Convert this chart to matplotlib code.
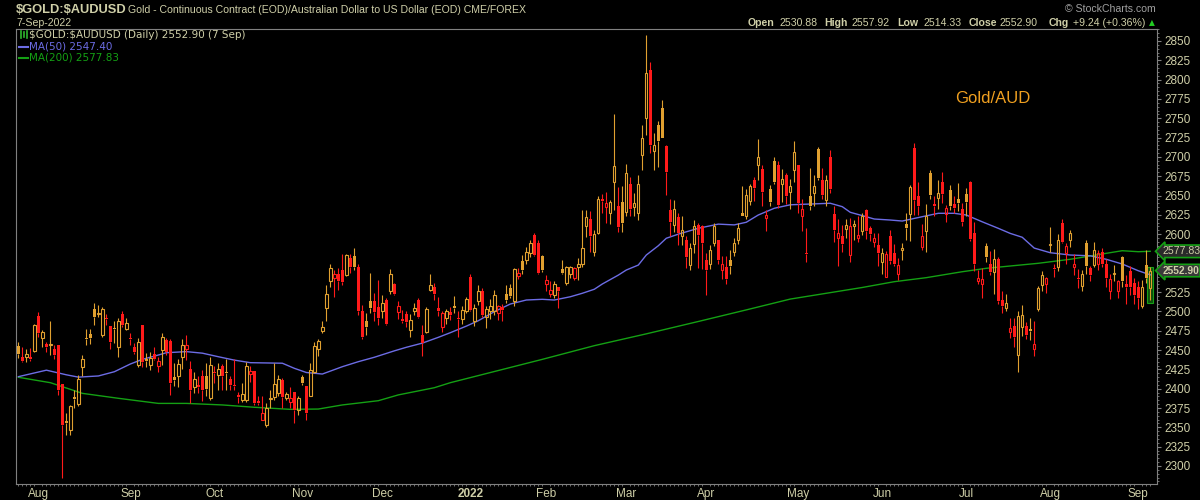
import numpy as np
import matplotlib.pyplot as plt
from matplotlib.lines import Line2D
from matplotlib.transforms import blended_transform_factory

plt.rcParams['text.parse_math'] = False

# daily OHLC candles (late Jul 2021 .. 7 Sep 2022)
opens = [
    2455, 2441, 2441, 2441, 2449, 2494, 2466, 2458, 2457, 2452,
    2457, 2406, 2358, 2347, 2389, 2380, 2428, 2466, 2471, 2503,
    2497, 2470, 2491, 2481, 2478, 2454, 2497, 2477, 2465, 2454,
    2431, 2483, 2439, 2431, 2445, 2429, 2450, 2463, 2462, 2415,
    2416, 2441, 2451, 2425, 2402, 2405, 2416, 2416, 2388, 2421,
    2418, 2429, 2422, 2413, 2405, 2392, 2386, 2386, 2419, 2423,
    2384, 2360, 2353, 2387, 2389, 2394, 2411, 2388, 2383, 2396,
    2373, 2415, 2403, 2391, 2421, 2452, 2475, 2504, 2539, 2543,
    2549, 2554, 2547, 2569, 2572, 2557, 2500, 2487, 2513, 2514,
    2506, 2500, 2515, 2527, 2536, 2499, 2490, 2497, 2476, 2500,
    2515, 2470, 2474, 2528, 2531, 2504, 2480, 2492, 2499, 2507,
    2492, 2490, 2500, 2544, 2487, 2513, 2527, 2493, 2501, 2500,
    2498, 2506, 2523, 2530, 2513, 2546, 2565, 2567, 2575, 2599,
    2589, 2572, 2536, 2523, 2521, 2531, 2555, 2537, 2548, 2543,
    2558, 2561, 2611, 2619, 2577, 2602, 2646, 2635, 2628, 2667,
    2636, 2642, 2629, 2665, 2635, 2627, 2702, 2750, 2813, 2707,
    2741, 2763, 2714, 2631, 2612, 2622, 2597, 2592, 2560, 2587,
    2612, 2610, 2567, 2561, 2588, 2592, 2553, 2557, 2567, 2577,
    2593, 2627, 2624, 2643, 2670, 2690, 2684, 2621, 2659, 2695,
    2690, 2665, 2677, 2655, 2683, 2689, 2624, 2575, 2650, 2653,
    2710, 2670, 2644, 2700, 2626, 2595, 2597, 2607, 2573, 2610,
    2595, 2604, 2631, 2608, 2590, 2586, 2564, 2545, 2598, 2575,
    2548, 2580, 2613, 2626, 2712, 2649, 2583, 2604, 2679, 2639,
    2647, 2667, 2626, 2657, 2639, 2646, 2633, 2652, 2667, 2601,
    2539, 2536, 2585, 2561, 2551, 2568, 2515, 2504, 2473, 2481,
    2444, 2480, 2481, 2477, 2451, 2503, 2534, 2536, 2586, 2556,
    2557, 2614, 2575, 2593, 2558, 2543, 2533, 2589, 2556, 2560,
    2561, 2577, 2561, 2526, 2549, 2526, 2571, 2536, 2552, 2537,
    2531, 2507, 2560, 2530.88,
]
highs = [
    2460, 2454, 2452, 2453, 2484, 2499, 2476, 2461, 2488, 2456,
    2457, 2406, 2368, 2379, 2398, 2418, 2444, 2477, 2477, 2511,
    2508, 2506, 2497, 2481, 2487, 2491, 2500, 2491, 2472, 2459,
    2465, 2483, 2446, 2448, 2454, 2441, 2472, 2465, 2464, 2433,
    2438, 2464, 2470, 2436, 2422, 2416, 2424, 2433, 2441, 2430,
    2433, 2432, 2439, 2417, 2438, 2396, 2407, 2434, 2429, 2423,
    2390, 2390, 2381, 2398, 2433, 2418, 2414, 2396, 2402, 2396,
    2390, 2418, 2403, 2433, 2461, 2464, 2487, 2534, 2562, 2554,
    2556, 2574, 2574, 2574, 2582, 2561, 2508, 2498, 2550, 2524,
    2541, 2521, 2517, 2555, 2537, 2514, 2502, 2501, 2497, 2511,
    2518, 2483, 2506, 2549, 2537, 2519, 2501, 2503, 2506, 2520,
    2500, 2507, 2519, 2549, 2510, 2534, 2530, 2507, 2516, 2528,
    2508, 2510, 2534, 2536, 2556, 2556, 2573, 2583, 2592, 2602,
    2592, 2573, 2547, 2540, 2539, 2531, 2566, 2559, 2559, 2558,
    2569, 2631, 2631, 2630, 2605, 2649, 2652, 2655, 2644, 2756,
    2661, 2662, 2691, 2674, 2653, 2677, 2741, 2858, 2823, 2731,
    2747, 2773, 2715, 2645, 2644, 2628, 2624, 2597, 2588, 2618,
    2614, 2612, 2576, 2586, 2614, 2592, 2572, 2572, 2580, 2595,
    2615, 2662, 2659, 2665, 2674, 2723, 2690, 2631, 2663, 2700,
    2695, 2684, 2679, 2671, 2721, 2689, 2646, 2608, 2686, 2677,
    2713, 2686, 2677, 2709, 2636, 2620, 2612, 2620, 2621, 2618,
    2623, 2627, 2633, 2610, 2602, 2602, 2582, 2578, 2605, 2587,
    2569, 2589, 2628, 2664, 2718, 2667, 2613, 2639, 2683, 2649,
    2670, 2680, 2638, 2664, 2649, 2666, 2640, 2660, 2669, 2616,
    2554, 2556, 2588, 2578, 2581, 2571, 2526, 2523, 2491, 2491,
    2500, 2508, 2486, 2492, 2487, 2533, 2552, 2545, 2609, 2561,
    2600, 2619, 2589, 2605, 2574, 2555, 2553, 2592, 2559, 2590,
    2580, 2582, 2568, 2548, 2560, 2541, 2572, 2547, 2559, 2543,
    2539, 2541, 2580, 2557.92,
]
lows = [
    2440, 2435, 2435, 2436, 2448, 2467, 2454, 2447, 2444, 2439,
    2392, 2285, 2340, 2340, 2375, 2377, 2416, 2457, 2458, 2482,
    2493, 2467, 2482, 2451, 2459, 2441, 2480, 2476, 2456, 2445,
    2428, 2428, 2428, 2424, 2437, 2421, 2431, 2444, 2392, 2403,
    2402, 2426, 2437, 2381, 2394, 2394, 2384, 2390, 2385, 2408,
    2398, 2398, 2398, 2398, 2398, 2381, 2383, 2383, 2409, 2379,
    2379, 2360, 2351, 2375, 2386, 2391, 2375, 2386, 2375, 2355,
    2366, 2405, 2360, 2390, 2420, 2442, 2472, 2487, 2532, 2519,
    2528, 2534, 2546, 2550, 2554, 2495, 2464, 2470, 2498, 2487,
    2483, 2491, 2483, 2523, 2521, 2490, 2485, 2480, 2467, 2495,
    2491, 2442, 2472, 2526, 2515, 2494, 2474, 2484, 2489, 2498,
    2467, 2484, 2498, 2500, 2481, 2508, 2493, 2479, 2490, 2495,
    2489, 2488, 2511, 2517, 2507, 2542, 2548, 2561, 2571, 2572,
    2548, 2551, 2526, 2519, 2518, 2504, 2548, 2534, 2543, 2541,
    2541, 2558, 2596, 2577, 2572, 2600, 2628, 2615, 2613, 2631,
    2603, 2603, 2624, 2624, 2623, 2618, 2683, 2728, 2705, 2683,
    2687, 2724, 2651, 2597, 2603, 2586, 2586, 2556, 2554, 2576,
    2556, 2555, 2521, 2555, 2585, 2562, 2542, 2535, 2549, 2572,
    2587, 2623, 2620, 2638, 2643, 2670, 2636, 2604, 2636, 2665,
    2634, 2642, 2639, 2633, 2668, 2627, 2604, 2564, 2631, 2636,
    2670, 2646, 2636, 2653, 2590, 2559, 2577, 2595, 2564, 2593,
    2590, 2599, 2594, 2591, 2583, 2559, 2549, 2545, 2562, 2559,
    2541, 2567, 2592, 2591, 2625, 2625, 2580, 2577, 2646, 2624,
    2633, 2640, 2616, 2631, 2628, 2630, 2611, 2623, 2591, 2552,
    2535, 2517, 2564, 2547, 2522, 2509, 2498, 2501, 2465, 2454,
    2422, 2468, 2464, 2463, 2442, 2500, 2526, 2524, 2577, 2545,
    2552, 2589, 2561, 2583, 2547, 2530, 2526, 2548, 2540, 2557,
    2554, 2557, 2532, 2516, 2539, 2518, 2532, 2510, 2521, 2510,
    2503, 2504, 2537, 2514.33,
]
closes = [
    2445, 2436, 2445, 2439, 2482, 2472, 2473, 2454, 2458, 2444,
    2398, 2353, 2356, 2378, 2387, 2412, 2439, 2464, 2466, 2493,
    2498, 2503, 2490, 2461, 2477, 2487, 2483, 2485, 2464, 2447,
    2461, 2435, 2436, 2440, 2439, 2436, 2467, 2448, 2408, 2411,
    2432, 2457, 2456, 2398, 2412, 2402, 2398, 2400, 2431, 2420,
    2425, 2416, 2420, 2405, 2403, 2389, 2393, 2430, 2423, 2382,
    2381, 2369, 2375, 2388, 2406, 2412, 2389, 2393, 2388, 2372,
    2388, 2408, 2368, 2424, 2455, 2462, 2480, 2523, 2556, 2549,
    2539, 2538, 2573, 2557, 2558, 2500, 2467, 2480, 2505, 2499,
    2491, 2511, 2484, 2549, 2523, 2507, 2488, 2486, 2489, 2505,
    2493, 2459, 2503, 2534, 2523, 2500, 2498, 2501, 2495, 2504,
    2490, 2502, 2516, 2502, 2505, 2526, 2495, 2503, 2507, 2521,
    2507, 2502, 2515, 2520, 2555, 2550, 2553, 2577, 2589, 2573,
    2550, 2553, 2541, 2528, 2536, 2526, 2550, 2557, 2558, 2556,
    2562, 2582, 2622, 2598, 2600, 2645, 2643, 2640, 2641, 2688,
    2609, 2615, 2679, 2633, 2640, 2665, 2725, 2809, 2715, 2716,
    2720, 2724, 2680, 2616, 2633, 2601, 2606, 2571, 2582, 2610,
    2599, 2588, 2554, 2580, 2611, 2567, 2562, 2542, 2559, 2589,
    2608, 2624, 2651, 2662, 2660, 2700, 2654, 2625, 2642, 2668,
    2638, 2672, 2650, 2662, 2706, 2640, 2633, 2574, 2636, 2662,
    2673, 2651, 2670, 2659, 2605, 2601, 2587, 2612, 2611, 2613,
    2599, 2623, 2604, 2600, 2595, 2575, 2576, 2574, 2565, 2561,
    2560, 2582, 2608, 2661, 2644, 2637, 2597, 2624, 2651, 2636,
    2653, 2652, 2634, 2636, 2634, 2640, 2616, 2642, 2594, 2561,
    2543, 2542, 2570, 2551, 2568, 2514, 2507, 2511, 2479, 2467,
    2494, 2495, 2470, 2475, 2458, 2530, 2547, 2543, 2587, 2555,
    2592, 2590, 2585, 2602, 2561, 2542, 2548, 2559, 2547, 2580,
    2575, 2562, 2543, 2542, 2549, 2539, 2540, 2532, 2531, 2521,
    2518, 2531, 2543.66, 2552.90,
]

# moving averages, sampled along the drawn lines (bar index, value)
ma50_pos = [0, 7, 12, 15, 20, 24, 28, 31, 35, 37,
            42, 46, 50, 54, 58, 66, 69, 72, 76, 81,
            85, 89, 94, 97, 101, 105, 108, 112, 115, 119,
            123, 127, 131, 134, 138, 141, 144, 146, 150, 152,
            155, 157, 160, 162, 165, 170, 175, 179, 182, 185,
            189, 193, 198, 203, 206, 208, 212, 214, 218, 221,
            226, 230, 234, 237, 241, 245, 248, 251, 254, 258,
            263, 268, 272, 276, 280, 283]
ma50_val = [2415.6, 2424, 2418, 2415, 2416.5, 2422, 2432, 2438, 2443.6, 2446.6,
            2448, 2446, 2441.4, 2437, 2433.7, 2433, 2426.4, 2421, 2419, 2428.5,
            2435, 2440.7, 2449, 2453.6, 2459, 2466.5, 2472.5, 2481, 2488, 2499.7,
            2509.6, 2514.8, 2515.7, 2514.8, 2519, 2523.5, 2528.7, 2535.5, 2547, 2553.6,
            2560, 2573, 2585, 2594.7, 2600, 2607.6, 2613, 2612, 2615.4, 2624.8,
            2633.5, 2638, 2639, 2640, 2635.6, 2628.3, 2622.6, 2619.6, 2618.3, 2617,
            2622.6, 2627, 2627, 2624.8, 2616, 2607.6, 2601, 2596, 2582, 2576,
            2573, 2572, 2567.5, 2561.4, 2552.7, 2547.4]
ma200_pos = [0, 8, 16, 25, 35, 42, 51, 59, 68, 75,
             81, 90, 95, 104, 108, 131, 144, 157, 170, 182,
             193, 211, 219, 227, 236, 242, 248, 255, 263, 272,
             276, 280, 283]
ma200_val = [2414.8, 2407.8, 2394, 2387.6, 2381, 2381, 2379, 2376, 2373.3, 2373.7,
             2379, 2384.5, 2392, 2401.3, 2407.8, 2438, 2455.7, 2471, 2487, 2502,
             2516, 2531, 2538.5, 2543.7, 2551.4, 2555.8, 2558.8, 2562.3, 2567.5, 2575.2,
             2578.6, 2577.3, 2577.83]

month_pos = [5, 28, 49, 71, 91, 113, 132, 152, 172, 195, 216, 237, 258, 280]
month_labels = ['Aug', 'Sep', 'Oct', 'Nov', 'Dec', '2022', 'Feb', 'Mar',
                'Apr', 'May', 'Jun', 'Jul', 'Aug', 'Sep']
price_ticks = [2300, 2325, 2350, 2375, 2400, 2425, 2450, 2475, 2500, 2525,
               2600, 2625, 2650, 2675, 2700, 2725, 2750, 2775, 2800, 2825, 2850]
ma50_last = 2547.40
ma200_last = 2577.83

BG = 'black'
TXT = '#CFCFA8'
ORANGE = '#E0A030'
RED = '#FF1A1A'
BLUE = '#6C6CE4'
GREEN = '#14A014'
GRID = '#808080'

o = np.array(opens, float)
h = np.array(highs, float)
l = np.array(lows, float)
c = np.array(closes, float)
x = np.arange(len(c))
prev = np.r_[c[0], c[:-1]]
cols = np.where(c >= prev, ORANGE, RED)
up = c >= o
top = np.maximum(o, c)
bot = np.minimum(o, c)
body = np.maximum(top - bot, 0.8)

fig = plt.figure(figsize=(12, 5), dpi=100, facecolor=BG)
ax = fig.add_axes([16 / 1200, 16 / 500, (1157 - 16) / 1200, (484 - 29) / 500])
ax.set_facecolor(BG)

# last bar highlight
ax.bar(x[-1], 47, bottom=2511, width=1.5, color='#0B4F0B', edgecolor='#18A018',
       lw=0.8, zorder=1)

ax.plot(ma200_pos, ma200_val, color=GREEN, lw=1.0, zorder=2)
ax.plot(ma50_pos, ma50_val, color=BLUE, lw=1.0, zorder=2)

ax.vlines(x, top, h, colors=cols, lw=0.8, zorder=3)
ax.vlines(x, l, bot, colors=cols, lw=0.8, zorder=3)
dn = ~up
ax.bar(x[dn], body[dn], bottom=bot[dn], width=0.72, color=cols[dn], lw=0, zorder=3)
ax.bar(x[up], body[up], bottom=bot[up], width=0.6, facecolor='none',
       edgecolor=cols[up], lw=0.8, zorder=3)

ax.set_xlim(-0.6, 284.7)
ax.set_ylim(2276.7, 2865.5)

for s in ax.spines.values():
    s.set_color(GRID)
    s.set_linewidth(0.8)

ax.yaxis.tick_right()
ax.set_yticks(price_ticks)
ax.set_yticklabels([str(v) for v in price_ticks], family='Liberation Sans',
                   fontsize=8.5, color=TXT)
ax.set_yticks(np.arange(2280, 2866, 5), minor=True)
ax.tick_params(axis='y', which='major', length=3, color=GRID, pad=2)
ax.tick_params(axis='y', which='minor', length=1.5, color=GRID)

ax.set_xticks(month_pos)
ax.set_xticklabels(month_labels, family='Liberation Sans', fontsize=8.5, color=TXT)
for lab in ax.get_xticklabels():
    if lab.get_text() == '2022':
        lab.set_fontweight('bold')
ax.set_xticks(x, minor=True)
ax.tick_params(axis='x', which='major', length=0, pad=3)
ax.tick_params(axis='x', which='minor', length=1.5, color=GRID)

# value flags on the price axis
tr = blended_transform_factory(ax.transAxes, ax.transData)
ax.text(1.0045, ma200_last, f'{ma200_last:.2f}', transform=tr, ha='left', va='center',
        family='Liberation Sans', fontsize=7.6, color=TXT, zorder=5,
        bbox=dict(boxstyle='larrow,pad=0.12', fc='#2A2A2A', ec=GREEN, lw=1.2))
ax.text(1.0045, c[-1], f'{c[-1]:.2f}', transform=tr, ha='left', va='center',
        family='Liberation Sans', fontsize=7.4, fontweight='bold', color=TXT, zorder=5,
        bbox=dict(boxstyle='larrow,pad=0.12', fc='#3A3A3A', ec=GREEN, lw=1.2))

ax.text(0.823, 0.848, 'Gold/AUD', transform=ax.transAxes, color='#F0A020',
        family='Liberation Sans', fontsize=12, va='center', ha='left')

# legend block
fig.text(29 / 1200, 1 - 34.5 / 500, f'$GOLD:$AUDUSD (Daily) {c[-1]:.2f} (7 Sep)',
         color=TXT, fontsize=7.5, va='center')
fig.text(29 / 1200, 1 - 46.5 / 500, f'MA(50) {ma50_last:.2f}',
         color=BLUE, fontsize=7.5, va='center')
fig.text(29 / 1200, 1 - 57.5 / 500, f'MA(200) {ma200_last:.2f}',
         color=GREEN, fontsize=7.5, va='center')
fig.add_artist(Line2D([19 / 1200, 28 / 1200], [1 - 46.5 / 500] * 2,
                      color=BLUE, lw=1.5, transform=fig.transFigure))
fig.add_artist(Line2D([19 / 1200, 28 / 1200], [1 - 57.5 / 500] * 2,
                      color=GREEN, lw=1.5, transform=fig.transFigure))
for xi, y0, y1 in [(20.5, 31, 38), (23.5, 32, 37), (26.5, 31, 38)]:
    fig.add_artist(Line2D([xi / 1200] * 2, [1 - y0 / 500, 1 - y1 / 500],
                          color='#2EB82E', lw=1.2, transform=fig.transFigure))

# header
fig.text(16 / 1200, 1 - 10 / 500, '$GOLD:$AUDUSD', color=TXT, fontsize=9.3,
         fontweight='bold', family='Liberation Sans', va='center')
fig.text(128 / 1200, 1 - 10 / 500,
         'Gold - Continuous Contract (EOD)/Australian Dollar to US Dollar (EOD) CME/FOREX',
         color=TXT, fontsize=7.6, family='Liberation Sans', va='center')
fig.text(16 / 1200, 1 - 22.5 / 500, '7-Sep-2022', color=TXT, fontsize=7.6,
         family='Liberation Sans', va='center')
fig.text(1156 / 1200, 1 - 9 / 500, '\u00a9 StockCharts.com', color='#A0A0A0',
         fontsize=7.6, family='Liberation Sans', va='center', ha='right')

chg = c[-1] - c[-2]
pct = chg / c[-2] * 100
hdr = [(748, 'Open', True), (779, f'{o[-1]:.2f}', False),
       (824, 'High', True), (852, f'{h[-1]:.2f}', False),
       (897, 'Low', True), (923, f'{l[-1]:.2f}', False),
       (969, 'Close', True), (1000, f'{c[-1]:.2f}', False),
       (1049, 'Chg', True), (1073, f'+{chg:.2f} (+{pct:.2f}%)', False)]
for px, s, bold in hdr:
    fig.text(px / 1200, 1 - 22.5 / 500, s, color=TXT, fontsize=7.6,
             family='Liberation Sans', fontweight='bold' if bold else 'normal',
             va='center')
fig.text(1152 / 1200, 1 - 22.5 / 500, '\u25b2', color='#22CC22', fontsize=5.5,
         va='center', ha='center')

fig.savefig('out.png', dpi=100, facecolor=BG)
